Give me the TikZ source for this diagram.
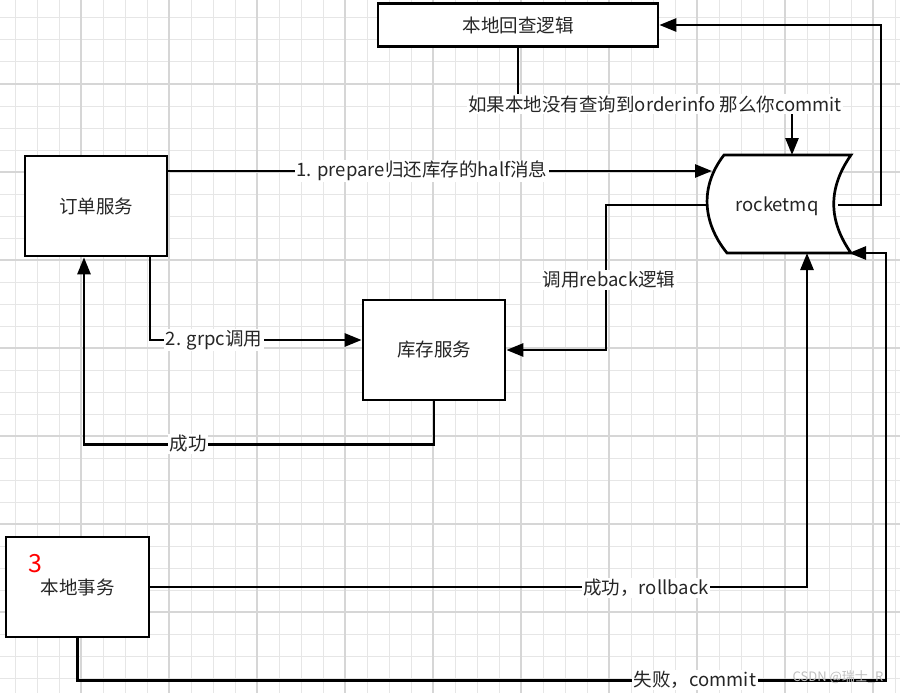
\documentclass[tikz,border=0pt]{standalone}
\usepackage{fontspec}
\setmainfont{Noto Sans CJK SC}
\usetikzlibrary{arrows.meta}
\definecolor{txt}{HTML}{262626}
\definecolor{gminor}{HTML}{E6E6E6}
\definecolor{gmajor}{HTML}{D6D6D6}
\tikzset{
  minorline/.style={gminor, line width=1pt},
  majorline/.style={gmajor, line width=1.3pt},
  box/.style={draw=black, fill=white, line width=2.7pt, inner sep=0pt, text=txt,
    font=\fontsize{18.5}{22}\selectfont},
  conn/.style={draw=black, line width=2.7pt,
    -{Triangle[length=17pt,width=13pt]}},
  lbl/.style={fill=white, inner sep=1.5pt, text=txt, font=\fontsize{18.5}{22}\selectfont}
}
\begin{document}
\begin{tikzpicture}[x=1pt,y=-1pt]
\useasboundingbox (0,0) rectangle (900,693);
\fill[white] (0,0) rectangle (900,693);
% grid
\foreach \x in {15,37,...,895} \draw[minorline] (\x,0) -- (\x,693);
\foreach \y in {18,40,...,678} \draw[minorline] (0,\y) -- (900,\y);
\foreach \x in {81,169,...,873} \draw[majorline] (\x,0) -- (\x,693);
\foreach \y in {84,172,...,612} \draw[majorline] (0,\y) -- (900,\y);

% boxes
\node[box, minimum width=280pt, minimum height=43pt] (top) at (518,25) {本地回查逻辑};
\node[box, minimum width=142pt, minimum height=100pt] (order) at (96,206) {订单服务};
\node[box, minimum width=142pt, minimum height=100pt] (stock) at (434,350) {库存服务};
\node[box, minimum width=143pt, minimum height=100pt] (local) at (77.5,587) {\raisebox{-2pt}{本地事务}};
\node[text=red, inner sep=0pt, font=\fontsize{25}{28}\selectfont] (three) at (35,564) {3};

% rocketmq shape
\draw[line width=2.7pt, fill=white]
  (724,155) -- (851,155) .. controls (828,188) and (828,220) .. (851,253)
  -- (727,253) .. controls (702,222) and (700,186) .. (724,155) -- cycle;
\node[text=txt, inner sep=0pt, font=\fontsize{18.5}{22}\selectfont] (mq) at (777,206) {rocketmq};
\coordinate (mqL1) at (712,171);
\coordinate (mqL2) at (707,205);
\coordinate (mqR) at (838,205);
\coordinate (mqT) at (792,155);
\coordinate (mqB1) at (807,253);
\coordinate (mqB2) at (849,253);

% connectors
\draw[conn] ([yshift=35pt]order.east) -- (mqL1);
\draw[conn] (mqR) -- ++(43,0) |- (top.east);
\draw[conn] (top.south) -- ++(0,57) -| (mqT);
\draw[conn] (mqL2) -- ++(-101,0) |- (stock.east);
\draw[conn] ([xshift=54pt]order.south) |- ([yshift=10pt]stock.west);
\draw[conn] (stock.south) -- ++(0,43) -| ([xshift=-12pt]order.south);
\draw[conn] (local.east) -| (mqB1);
\draw[conn] (local.south) -- ++(0,42) -| ([xshift=37pt]mqB2) -- (mqB2);

% labels
\node[lbl] (l1) at (422,171) {1. prepare归还库存的half消息};
\node[lbl] (l2) at (655,104) {如果本地没有查询到orderinfo 那么你commit};
\node[lbl] (l3) at (609,280) {调用reback逻辑};
\node[lbl] (l4) at (214,340) {2. grpc调用};
\node[lbl] (l5) at (188,444) {成功};
\node[lbl] (l6) at (646,588) {成功，rollback};
\node[lbl] (l7) at (695,680) {失败，commit};
\node[text=black!25, inner sep=0pt, font=\fontsize{13}{15}\selectfont] (wm) at (838,677) {CSDN @瑞士\_R};
\end{tikzpicture}
\end{document}
